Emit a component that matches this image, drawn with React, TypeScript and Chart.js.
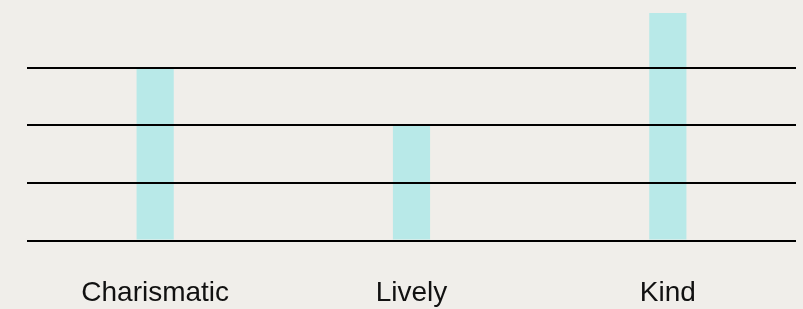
import React, { useEffect, useRef } from "react";
import { Chart, registerables } from "chart.js";

Chart.register(...registerables);

const categories: string[] = ["Charismatic", "Lively", "Kind"];
const values: number[] = [3, 2, 3.95];
const yTickStep = 1;

const BG = "#f0eeea";
const BAR = "#b8e9e8";

export default function App() {
  const ref = useRef<HTMLCanvasElement | null>(null);

  useEffect(() => {
    document.body.style.margin = "0";
    document.body.style.background = BG;
    if (!ref.current) return;
    const chart = new Chart(ref.current, {
      type: "bar",
      data: {
        labels: categories,
        datasets: [
          {
            data: values,
            backgroundColor: BAR,
            borderWidth: 0,
            barPercentage: 0.145,
            categoryPercentage: 1,
          },
        ],
      },
      options: {
        animation: false,
        responsive: true,
        maintainAspectRatio: false,
        layout: { padding: { left: 27, right: 7, top: 13, bottom: 0 } },
        plugins: { legend: { display: false }, tooltip: { enabled: false } },
        scales: {
          x: {
            grid: { display: false, drawTicks: false, tickLength: 0 },
            border: { display: false },
            ticks: {
              color: "#111",
              font: { family: "'Liberation Sans', Arial, sans-serif", size: 28 },
              padding: 36,
              maxRotation: 0,
            },
            afterFit: (scale: any) => {
              scale.height = 68.5;
            },
          },
          y: {
            min: 0,
            max: Math.max(...values),
            ticks: { display: false, stepSize: yTickStep, includeBounds: false },
            grid: { color: "#000", lineWidth: 2, drawTicks: false, tickLength: 0, z: 1 },
            border: { display: false },
          },
        },
      },
    });
    return () => chart.destroy();
  }, []);

  return (
    <div style={{ position: "fixed", left: 0, top: 0, width: 803, height: 309, background: BG }}>
      <canvas ref={ref} />
    </div>
  );
}
